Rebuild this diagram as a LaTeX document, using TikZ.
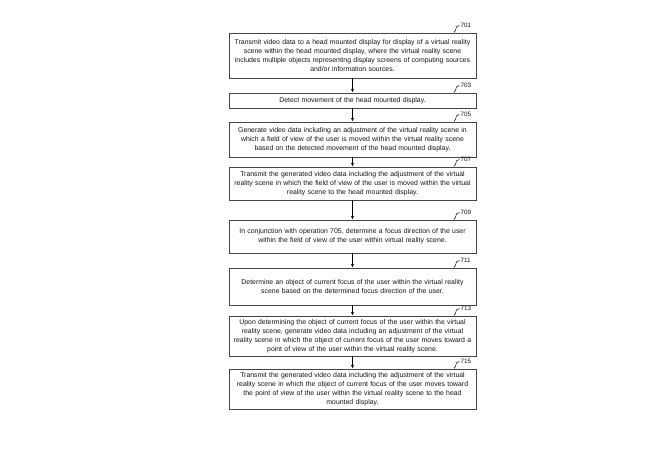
\documentclass[tikz,border=0pt]{standalone}
\usepackage{fontspec}
\setmainfont{Liberation Sans}
\usetikzlibrary{arrows.meta}
\tikzset{
  stepbox/.style={draw=boxgray, line width=0.9pt, text=textgray, minimum width=247pt, text width=244pt, align=center, inner sep=1.5pt, font=\fontsize{6.9}{9}\selectfont},
  steplabel/.style={anchor=west, inner sep=0pt, text=textgray, font=\fontsize{6.3}{7}\selectfont},
  flow/.style={-{Latex[length=3.5pt,width=3pt]}, line width=0.6pt},
  hook/.style={line width=0.5pt}
}
\begin{document}
\begin{tikzpicture}[x=1pt,y=1pt]
\definecolor{boxgray}{RGB}{70,70,70}
\definecolor{textgray}{RGB}{20,20,20}
\useasboundingbox (0,0) rectangle (656,464);
\node[stepbox, minimum height=45pt] (b701) at (352.5,408.5) {Transmit video data to a head mounted display for display of a virtual reality\\ scene within the head mounted display, where the virtual reality scene\\ includes multiple objects representing display screens of computing sources\\ and/or information sources.};
\node[stepbox, minimum height=15pt] (b703) at (352.5,363.5) {Detect movement of the head mounted display.};
\node[stepbox, minimum height=35pt] (b705) at (352.5,324.5) {Generate video data including an adjustment of the virtual reality scene in\\ which a field of view of the user is moved within the virtual reality scene\\ based on the detected movement of the head mounted display.};
\node[stepbox, minimum height=33pt] (b707) at (352.5,280.5) {Transmit the generated video data including the adjustment of the virtual\\ reality scene in which the field of view of the user is moved within the virtual\\ reality scene to the head mounted display.};
\node[stepbox, minimum height=33pt] (b709) at (352.5,227.5) {In conjunction with operation 705, determine a focus direction of the user\\ within the field of view of the user within virtual reality scene.};
\node[stepbox, minimum height=37pt] (b711) at (352.5,177.5) {Determine an object of current focus of the user within the virtual reality\\ scene based on the determined focus direction of the user.};
\node[stepbox, minimum height=40pt] (b713) at (352.5,128) {Upon determining the object of current focus of the user within the virtual\\ reality scene, generate video data including an adjustment of the virtual\\ reality scene in which the object of current focus of the user moves toward a\\ point of view of the user within the virtual reality scene.};
\node[stepbox, minimum height=40pt] (b715) at (352.5,75) {Transmit the generated video data including the adjustment of the virtual\\ reality scene in which the object of current focus of the user moves toward\\ the point of view of the user within the virtual reality scene to the head\\ mounted display.};
% reference numerals
\node[steplabel] (l701) at ([xshift=-16pt,yshift=7pt]b701.north east) {701};
\node[steplabel] (l703) at ([xshift=-16pt,yshift=7pt]b703.north east) {703};
\node[steplabel] (l705) at ([xshift=-16pt,yshift=7pt]b705.north east) {705};
\node[steplabel] (l707) at ([xshift=-16pt,yshift=7pt]b707.north east) {707};
\node[steplabel] (l709) at ([xshift=-16pt,yshift=7pt]b709.north east) {709};
\node[steplabel] (l711) at ([xshift=-16pt,yshift=7pt]b711.north east) {711};
\node[steplabel] (l713) at ([xshift=-16pt,yshift=7pt]b713.north east) {713};
\node[steplabel] (l715) at ([xshift=-16pt,yshift=7pt]b715.north east) {715};
\draw[hook] ([xshift=-1pt]l701.west) .. controls +(-2.5,0.5) and +(0,3) .. ([xshift=-21pt,yshift=2pt]b701.north east) .. controls +(0,-1.5) and +(1,1) .. ([xshift=-22.5pt]b701.north east);
\draw[hook] ([xshift=-1pt]l703.west) .. controls +(-2.5,0.5) and +(0,3) .. ([xshift=-21pt,yshift=2pt]b703.north east) .. controls +(0,-1.5) and +(1,1) .. ([xshift=-22.5pt]b703.north east);
\draw[hook] ([xshift=-1pt]l705.west) .. controls +(-2.5,0.5) and +(0,3) .. ([xshift=-21pt,yshift=2pt]b705.north east) .. controls +(0,-1.5) and +(1,1) .. ([xshift=-22.5pt]b705.north east);
\draw[hook] ([xshift=-1pt]l707.west) .. controls +(-2.5,0.5) and +(0,3) .. ([xshift=-21pt,yshift=2pt]b707.north east) .. controls +(0,-1.5) and +(1,1) .. ([xshift=-22.5pt]b707.north east);
\draw[hook] ([xshift=-1pt]l709.west) .. controls +(-2.5,0.5) and +(0,3) .. ([xshift=-21pt,yshift=2pt]b709.north east) .. controls +(0,-1.5) and +(1,1) .. ([xshift=-22.5pt]b709.north east);
\draw[hook] ([xshift=-1pt]l711.west) .. controls +(-2.5,0.5) and +(0,3) .. ([xshift=-21pt,yshift=2pt]b711.north east) .. controls +(0,-1.5) and +(1,1) .. ([xshift=-22.5pt]b711.north east);
\draw[hook] ([xshift=-1pt]l713.west) .. controls +(-2.5,0.5) and +(0,3) .. ([xshift=-21pt,yshift=2pt]b713.north east) .. controls +(0,-1.5) and +(1,1) .. ([xshift=-22.5pt]b713.north east);
\draw[hook] ([xshift=-1pt]l715.west) .. controls +(-2.5,0.5) and +(0,3) .. ([xshift=-21pt,yshift=2pt]b715.north east) .. controls +(0,-1.5) and +(1,1) .. ([xshift=-22.5pt]b715.north east);
% flow
\draw[flow] (b701) -- (b703);
\draw[flow] (b703) -- (b705);
\draw[flow] (b705) -- (b707);
\draw[flow] (b707) -- (b709);
\draw[flow] (b709) -- (b711);
\draw[flow] (b711) -- (b713);
\draw[flow] (b713) -- (b715);
\end{tikzpicture}
\end{document}
